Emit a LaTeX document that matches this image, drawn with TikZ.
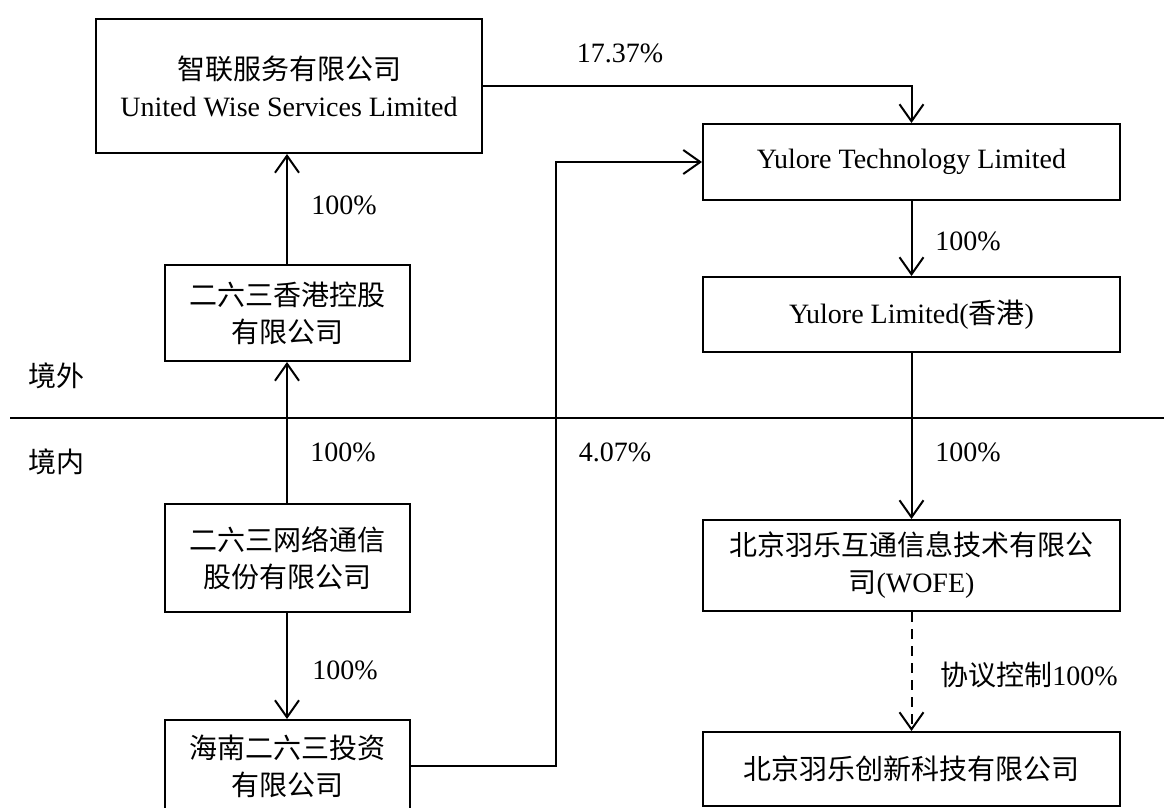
\documentclass[tikz,border=0pt]{standalone}
\usepackage{fontspec}
\setmainfont{Liberation Serif}
\newfontfamily\cjk{Noto Sans CJK SC}
\usetikzlibrary{arrows.meta}
\tikzset{
  box/.style={draw, line width=2pt, rectangle, align=center, inner sep=0pt},
  conn/.style={line width=2pt, -{Straight Barb[length=17pt, width=24pt, line width=2pt]}},
  lbl/.style={inner sep=0pt, anchor=center},
}
\begin{document}
\begin{tikzpicture}[x=1pt, y=-1pt, font=\fontsize{28}{37}\selectfont]
\useasboundingbox[fill=white] (0,0) rectangle (1164,808);
% left column
\node[box, minimum width=386pt, minimum height=134pt] (A) at (289,86)
  {{\cjk 智联服务有限公司}\\United Wise Services Limited};
\node[box, minimum width=245pt, minimum height=96pt] (B) at (287,313)
  {{\cjk 二六三香港控股}\\{\cjk 有限公司}};
\node[box, minimum width=245pt, minimum height=108pt] (C) at (287,558)
  {{\cjk 二六三网络通信}\\{\cjk 股份有限公司}};
\node[box, minimum width=245pt, minimum height=92pt] (D) at (287,766)
  {{\cjk 海南二六三投资}\\{\cjk 有限公司}};
% right column
\node[box, minimum width=417pt, minimum height=76pt] (E) at (911.5,162)
  {Yulore Technology Limited};
\node[box, minimum width=417pt, minimum height=75pt] (F) at (911.5,314.5)
  {Yulore Limited({\cjk 香港})};
\node[box, minimum width=417pt, minimum height=91pt] (G) at (911.5,565.5)
  {{\cjk 北京羽乐互通信息技术有限公}\\{\cjk 司}(WOFE)};
\node[box, minimum width=417pt, minimum height=74pt] (H) at (911.5,769)
  {{\cjk 北京羽乐创新科技有限公司}};
% divider
\coordinate (L0) at (10,418);
\coordinate (L1) at (1164,418);
\draw[line width=1.6pt] (L0) -- (L1);
\node[lbl] (out) at (56,376) {\cjk 境外};
\node[lbl] (in) at (56,462) {\cjk 境内};
% connectors
\draw[conn] (B.north) -- (B.north |- A.south);
\draw[conn] (C.north) -- (B.south);
\draw[conn] (C.south) -- (D.north);
\draw[conn] (A.east) -| (E.north);
\coordinate (Dturn) at (556,766);
\draw[conn] (D.east) -- (Dturn) |- (E.west);
\draw[conn] (E.south) -- (F.north);
\draw[conn] (F.south) -- (G.north);
\draw[conn, dashed, dash pattern=on 10pt off 7pt] (G.south) -- (H.north);
% labels
\node[lbl] (l1) at (620,53) {17.37\%};
\node[lbl] (l2) at (344,205) {100\%};
\node[lbl] (l3) at (343,452) {100\%};
\node[lbl] (l4) at (615,452) {4.07\%};
\node[lbl] (l5) at (345,670) {100\%};
\node[lbl] (l6) at (968,241) {100\%};
\node[lbl] (l7) at (968,452) {100\%};
\node[lbl] (l8) at (1029,675) {{\cjk 协议控制}100\%};
\end{tikzpicture}
\end{document}
